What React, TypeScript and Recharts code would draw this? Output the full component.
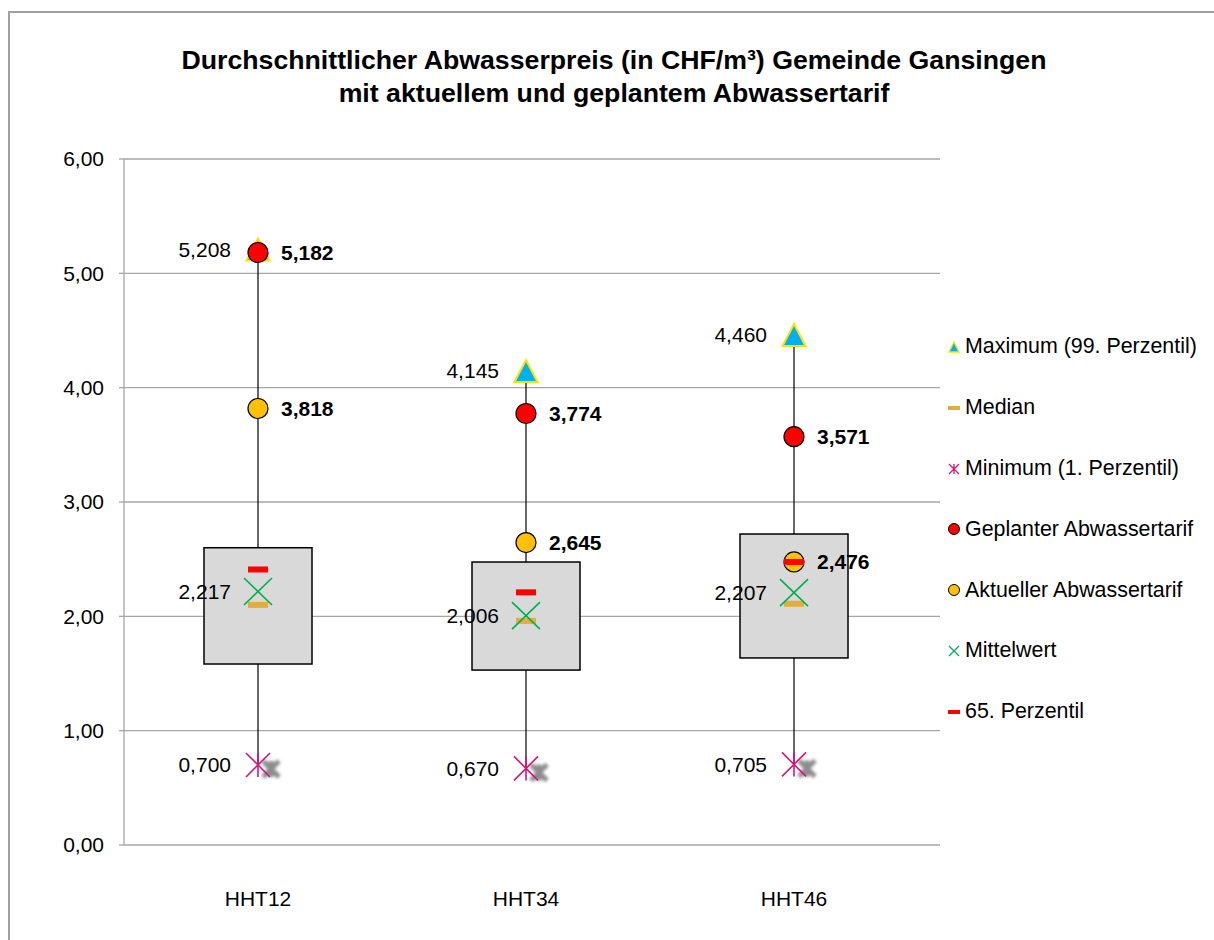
import React from 'react';
import { ComposedChart, Bar, Scatter, XAxis, YAxis, CartesianGrid, Legend } from 'recharts';

const categories = ['HHT12', 'HHT34', 'HHT46'];
const maxValues = [5.208, 4.145, 4.46];
const q3Values = [2.6, 2.475, 2.72];
const q1Values = [1.583, 1.53, 1.636];
const medianValues = [2.1, 1.96, 2.11];
const minValues = [0.7, 0.67, 0.705];
const plannedValues = [5.182, 3.774, 3.571];
const currentValues = [3.818, 2.645, 2.476];
const meanValues = [2.217, 2.006, 2.207];
const p65Values = [2.41, 2.21, 2.476];
const yTicks = [0, 1, 2, 3, 4, 5, 6];

const seriesOrder = ['max', 'median', 'min', 'planned', 'current', 'mean', 'p65'];
const seriesNames: Record<string, string> = {
  max: 'Maximum (99. Perzentil)',
  median: 'Median',
  min: 'Minimum (1. Perzentil)',
  planned: 'Geplanter Abwassertarif',
  current: 'Aktueller Abwassertarif',
  mean: 'Mittelwert',
  p65: '65. Perzentil',
};

const data = categories.map((cat, i) => ({
  cat,
  box: [q1Values[i], q3Values[i]],
  q1: q1Values[i],
  q3: q3Values[i],
  max: maxValues[i],
  min: minValues[i],
  median: medianValues[i],
  planned: plannedValues[i],
  current: currentValues[i],
  mean: meanValues[i],
  p65: p65Values[i],
}));

const FONT = '"Liberation Sans", Arial, Helvetica, sans-serif';
const fmt3 = (v: number) => v.toFixed(3).replace('.', ',');
const fmt2 = (v: number) => v.toFixed(2).replace('.', ',');
const LABEL_SIZE = 21;

const C = {
  maxFill: '#00B0F0',
  maxStroke: '#FFE100',
  median: '#E4AC3C',
  min: '#D1177A',
  planned: '#FF0000',
  current: '#FFC000',
  mean: '#00B050',
  p65: '#FF0000',
  grid: '#A6A6A6',
};

const LeftLabel = ({ cx, cy, value }: any) => (
  <text x={cx - 27} y={cy} dy="0.35em" textAnchor="end" fontSize={LABEL_SIZE} fontFamily={FONT} fill="#000">
    {fmt3(value)}
  </text>
);
const RightLabel = ({ cx, cy, value }: any) => (
  <text x={cx + 23} y={cy} dy="0.35em" textAnchor="start" fontSize={LABEL_SIZE} fontWeight="bold" fontFamily={FONT} fill="#000">
    {fmt3(value)}
  </text>
);

const BoxShape = (props: any) => {
  const { x, y, width, height, payload } = props;
  const top = Math.min(y, y + height);
  const h = Math.abs(height);
  const ppu = h / (payload.q3 - payload.q1);
  const cx = x + width / 2;
  const yMax = top - (payload.max - payload.q3) * ppu;
  const yMin = top + h + (payload.q1 - payload.min) * ppu;
  return (
    <g>
      <line x1={cx} x2={cx} y1={yMax} y2={yMin} stroke="#000" strokeWidth={1.2} />
      <rect x={x} y={top} width={width} height={h} fill="#D9D9D9" stroke="#000" strokeWidth={1.5} />
    </g>
  );
};

const MaxShape = ({ cx, cy, payload }: any) => (
  <g>
    <path d={`M${cx},${cy - 11} L${cx + 11.5},${cy + 11} L${cx - 11.5},${cy + 11} Z`} fill={C.maxFill} stroke={C.maxStroke} strokeWidth={2} />
    <LeftLabel cx={cx} cy={cy} value={payload.max} />
  </g>
);

const DashShape = (color: string) => ({ cx, cy }: any) => (
  <rect x={cx - 10} y={cy - 3} width={20} height={6} fill={color} />
);

const asteriskPath = (cx: number, cy: number, r: number) =>
  `M${cx - r},${cy - r} L${cx + r},${cy + r} M${cx - r},${cy + r} L${cx + r},${cy - r} M${cx},${cy - r} L${cx},${cy + r}`;

const MinShape = ({ cx, cy, payload }: any) => (
  <g>
    <defs>
      <filter id="minShadowBlur" x="-50%" y="-50%" width="200%" height="200%">
        <feGaussianBlur stdDeviation="1.6" />
      </filter>
    </defs>
    <path d={asteriskPath(cx + 13, cy + 4, 8)} stroke="#8C8C8C" strokeWidth={5} fill="none" filter="url(#minShadowBlur)" />
    <path d={asteriskPath(cx, cy, 12)} stroke={C.min} strokeWidth={1.6} fill="none" />
    <LeftLabel cx={cx} cy={cy} value={payload.min} />
  </g>
);

const PlannedShape = ({ cx, cy, payload }: any) => (
  <g>
    <circle cx={cx} cy={cy} r={10} fill={C.planned} stroke="#000" strokeWidth={1.2} />
    <RightLabel cx={cx} cy={cy} value={payload.planned} />
  </g>
);

const CurrentShape = ({ cx, cy, payload }: any) => (
  <g>
    <circle cx={cx} cy={cy} r={10} fill={C.current} stroke="#000" strokeWidth={1.2} />
    <RightLabel cx={cx} cy={cy} value={payload.current} />
  </g>
);

const MeanShape = ({ cx, cy, payload }: any) => (
  <g>
    <path d={`M${cx - 14},${cy - 13.5} L${cx + 14},${cy + 13.5} M${cx - 14},${cy + 13.5} L${cx + 14},${cy - 13.5}`} stroke={C.mean} strokeWidth={1.6} fill="none" />
    <LeftLabel cx={cx} cy={cy} value={payload.mean} />
  </g>
);

const legendIcon = (key: string) => {
  switch (key) {
    case 'max':
      return <path d="M7,2 L12,12 L2,12 Z" fill={C.maxFill} stroke={C.maxStroke} strokeWidth={1.3} />;
    case 'median':
      return <rect x={1} y={5} width={12} height={4} fill={C.median} />;
    case 'min':
      return <path d={asteriskPath(7, 7, 5)} stroke={C.min} strokeWidth={1.3} fill="none" />;
    case 'planned':
      return <circle cx={7} cy={7} r={5.5} fill={C.planned} stroke="#000" strokeWidth={1} />;
    case 'current':
      return <circle cx={7} cy={7} r={5.5} fill={C.current} stroke="#000" strokeWidth={1} />;
    case 'mean':
      return <path d="M2,2 L12,12 M2,12 L12,2" stroke={C.mean} strokeWidth={1.3} fill="none" />;
    case 'p65':
      return <rect x={1} y={5} width={12} height={4} fill={C.p65} />;
    default:
      return null;
  }
};

const LegendContent = ({ payload }: any) => {
  const items = (payload || [])
    .filter((e: any) => e.type !== 'none' && seriesOrder.includes(String(e.dataKey)))
    .sort((a: any, b: any) => seriesOrder.indexOf(String(a.dataKey)) - seriesOrder.indexOf(String(b.dataKey)));
  return (
    <div style={{ fontFamily: FONT, fontSize: 21.4, color: '#000' }}>
      {items.map((e: any) => (
        <div key={String(e.dataKey)} style={{ height: 60.8, display: 'flex', alignItems: 'center', whiteSpace: 'nowrap' }}>
          <svg width={14} height={14} style={{ marginRight: 4, flex: 'none' }}>
            {legendIcon(String(e.dataKey))}
          </svg>
          <span>{e.value}</span>
        </div>
      ))}
    </div>
  );
};

export default function App() {
  return (
    <div style={{ position: 'fixed', left: 0, top: 0, width: 1214, height: 940, overflow: 'hidden', background: '#fff' }}>
      <div style={{ position: 'absolute', left: 8, top: 11, width: 1300, height: 1000, border: '2px solid #A0A0A0', boxSizing: 'border-box' }} />
      <div
        style={{
          position: 'absolute',
          left: 0,
          top: 44,
          width: 1228,
          textAlign: 'center',
          fontFamily: FONT,
          fontWeight: 'bold',
          fontSize: 26.7,
          lineHeight: '33px',
          color: '#000',
        }}
      >
        <div>Durchschnittlicher Abwasserpreis (in CHF/m³) Gemeinde Gansingen</div>
        <div>mit aktuellem und geplantem Abwassertarif</div>
      </div>
      <div style={{ position: 'absolute', left: 0, top: 0 }}>
        <ComposedChart width={1214} height={940} data={data} margin={{ top: 159, right: 274, bottom: 55, left: 64 }}>
          <CartesianGrid vertical={false} stroke={C.grid} strokeWidth={1.3} />
          <XAxis
            dataKey="cat"
            axisLine={false}
            tickLine={false}
            tickSize={0}
            tickMargin={46}
            height={40}
            padding={{ left: 0, right: 12 }}
            tick={{ fontSize: LABEL_SIZE, fontFamily: FONT, fill: '#000' }}
          />
          <YAxis
            domain={[0, 6]}
            ticks={yTicks}
            width={60}
            interval={0}
            tickFormatter={fmt2}
            axisLine={{ stroke: C.grid, strokeWidth: 1.3 }}
            tickLine={{ stroke: C.grid, strokeWidth: 1.3 }}
            tickSize={5}
            tickMargin={15}
            tick={{ fontSize: LABEL_SIZE, fontFamily: FONT, fill: '#000' }}
          />
          <Bar dataKey="box" barSize={108} shape={BoxShape} legendType="none" isAnimationActive={false} />
          <Scatter name={seriesNames.max} dataKey="max" shape={MaxShape} isAnimationActive={false} />
          <Scatter name={seriesNames.median} dataKey="median" shape={DashShape(C.median)} isAnimationActive={false} />
          <Scatter name={seriesNames.min} dataKey="min" shape={MinShape} isAnimationActive={false} />
          <Scatter name={seriesNames.planned} dataKey="planned" shape={PlannedShape} isAnimationActive={false} />
          <Scatter name={seriesNames.current} dataKey="current" shape={CurrentShape} isAnimationActive={false} />
          <Scatter name={seriesNames.mean} dataKey="mean" shape={MeanShape} isAnimationActive={false} />
          <Scatter name={seriesNames.p65} dataKey="p65" shape={DashShape(C.p65)} isAnimationActive={false} />
          <Legend
            layout="horizontal"
            verticalAlign="middle"
            align="center"
            content={LegendContent}
            wrapperStyle={{ left: 947, top: 316.6, width: 267, height: 'auto' }}
          />
        </ComposedChart>
      </div>
    </div>
  );
}
